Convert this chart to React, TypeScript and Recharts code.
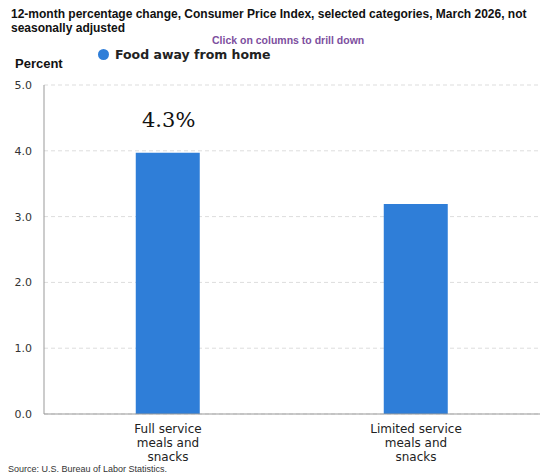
import * as React from 'react';
import { BarChart, Bar, XAxis, YAxis, CartesianGrid } from 'recharts';

const categories = ['Full service meals and snacks', 'Limited service meals and snacks'];
const tickLines = [
	['Full service', 'meals and', 'snacks'],
	['Limited service', 'meals and', 'snacks'],
];
const foodAwayValues = [3.97, 3.19];
const yTicks = [0, 1, 2, 3, 4, 5];

const data = categories.map((name, i) => ({ name, value: foodAwayValues[i] }));

const WrappedTick = (props: any) => {
	const { x, y, payload, index } = props;
	const lines = tickLines[index] ?? [payload.value];
	return (
		<text x={x} y={y} textAnchor='middle' fill='#222' fontSize={12} fontFamily='DejaVu Sans, Verdana, sans-serif'>
			{lines.map((l: string, i: number) => (
				<tspan key={i} x={x} dy={i === 0 ? 11 : 14}>
					{l}
				</tspan>
			))}
		</text>
	);
};

export default function App() {
	return (
		<div style={{ position: 'absolute', left: 0, top: 0, width: 543, height: 476, background: '#fff', fontFamily: 'Liberation Sans, Arial, sans-serif' }}>
			<div style={{ position: 'absolute', left: 11, top: 7, width: 520, fontSize: 12, fontWeight: 'bold', lineHeight: '14px', color: '#111' }}>
				12-month percentage change, Consumer Price Index, selected categories, March 2026, not seasonally adjusted
			</div>
			<div style={{ position: 'absolute', left: 212, top: 34, fontSize: 10.5, fontWeight: 'bold', color: '#7d4f9e' }}>
				Click on columns to drill down
			</div>
			<div style={{ position: 'absolute', left: 15, top: 56, fontSize: 13, fontWeight: 'bold', color: '#111' }}>Percent</div>
			<div style={{ position: 'absolute', left: 98, top: 47, display: 'flex', alignItems: 'center', fontFamily: 'DejaVu Sans, Verdana, sans-serif', fontWeight: 'bold', fontSize: 12.5, color: '#222' }}>
				<span style={{ width: 11, height: 11, borderRadius: '50%', background: '#2f7ed8', display: 'inline-block', marginRight: 6 }} />
				Food away from home
			</div>
			<BarChart width={543} height={476} data={data} margin={{ top: 85, right: 3, left: 0, bottom: 22 }} barCategoryGap='37%'>
				<CartesianGrid vertical={false} stroke='#ddd' strokeDasharray='4 3' />
				<XAxis dataKey='name' height={40} tickLine={false} axisLine={{ stroke: '#999' }} tick={<WrappedTick />} interval={0} />
				<YAxis
					width={44}
					domain={[0, 5]}
					ticks={yTicks}
					tickFormatter={(v: number) => v.toFixed(1)}
					tickLine={false}
					tickSize={0}
					tickMargin={12}
					axisLine={{ stroke: '#999' }}
					tick={{ fontSize: 11, fill: '#333', fontFamily: 'DejaVu Sans, Verdana, sans-serif' }}
				/>
				<Bar dataKey='value' name='Food away from home' fill='#2f7ed8' isAnimationActive={false} />
			</BarChart>
			<div style={{ position: 'absolute', left: 142, top: 108, fontSize: 21, fontFamily: 'DejaVu Serif, serif', color: '#111' }}>4.3%</div>
			<div style={{ position: 'absolute', left: 8, top: 464, fontSize: 9, color: '#333' }}>Source: U.S. Bureau of Labor Statistics.</div>
		</div>
	);
}
